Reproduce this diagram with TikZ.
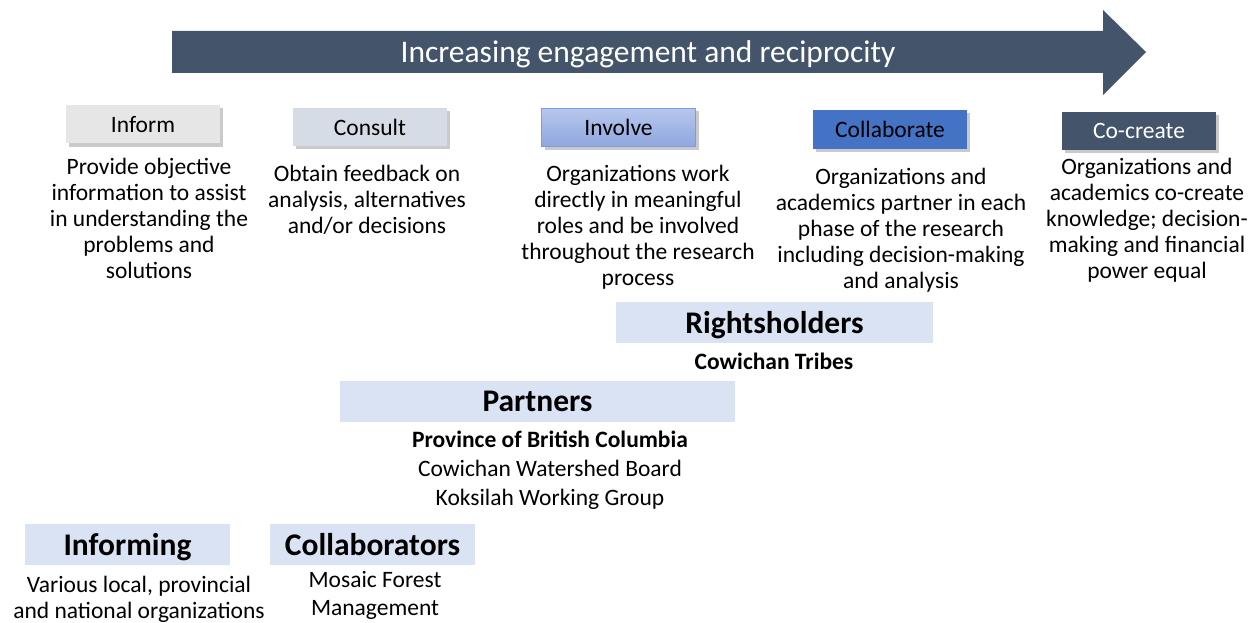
\documentclass[tikz,border=0pt]{standalone}
\usepackage{fontspec}
\setmainfont{Carlito}
\usetikzlibrary{shadows,calc}
\definecolor{slate}{HTML}{44546A}
\definecolor{informgray}{HTML}{E7E6E6}
\definecolor{consultblue}{HTML}{D6DCE5}
\definecolor{involvetop}{HTML}{B7C6EC}
\definecolor{involvebot}{HTML}{8FA7DF}
\definecolor{involveline}{HTML}{7E9BDD}
\definecolor{collabblue}{HTML}{4472C4}
\definecolor{grouppale}{HTML}{DAE3F3}
\tikzset{
  x=1pt, y=-1pt,
  levelbox/.style={minimum width=154pt, minimum height=38pt, inner sep=0pt,
    font=\fontsize{23.5}{26}\selectfont,
    drop shadow={shadow xshift=3pt, shadow yshift=-3pt, opacity=0.35, fill=black!60}},
  desc/.style={align=center, inner sep=0pt, font=\fontsize{23.5}{26}\selectfont},
  grouphead/.style={fill=grouppale, inner sep=0pt, minimum height=41pt,
    text depth=0pt, font=\fontsize{31.5}{34}\selectfont\bfseries},
  members/.style={align=center, inner sep=0pt, font=\fontsize{23.5}{29}\selectfont}
}
\begin{document}
\begin{tikzpicture}
\useasboundingbox (0,0) rectangle (1255,623);

% progression arrow
\fill[slate] (172,31) -- (1103,31) -- (1103,10) -- (1146,52) -- (1103,95)
  -- (1103,73) -- (172,73) -- cycle;
\node[text=white, text depth=0pt, font=\fontsize{31.5}{34}\selectfont] (arrowlabel) at (648,52)
  {Increasing engagement and reciprocity};

% engagement levels
\node[levelbox, fill=informgray] (inform) at (143,124.5) {Inform};
\node[levelbox, fill=consultblue] (consult) at (370,127) {Consult};
\node[levelbox, top color=involvetop, bottom color=involvebot, draw=involveline]
  (involve) at (618.5,127.5) {Involve};
\node[levelbox, fill=collabblue] (collaborate) at (890,129.5) {Collaborate};
\node[levelbox, fill=slate, text=white] (cocreate) at (1139,131) {Co-create};

\node[desc] (informdesc) at (149,218)
  {Provide objective\\information to assist\\in understanding the\\problems and\\solutions};
\node[desc] (consultdesc) at (367,200)
  {Obtain feedback on\\analysis, alternatives\\and/or decisions};
\node[desc] (involvedesc) at (638,227)
  {Organizations work\\directly in meaningful\\roles and be involved\\throughout the research\\process};
\node[desc] (collabdesc) at (901,230)
  {Organizations and\\academics partner in each\\phase of the research\\including decision-making\\and analysis};
\node[desc] (cocreatedesc) at (1147,220)
  {Organizations and\\academics co-create\\knowledge; decision-\\making and financial\\power equal};

% groups
\node[grouphead, minimum width=317pt] (rights) at (774.5,322.5) {Rightsholders};
\node[members, font=\fontsize{23.5}{29}\selectfont\bfseries] (rightsmem) at (774,361) {Cowichan Tribes};

\node[grouphead, minimum width=395pt] (partners) at (537.5,401.5) {Partners};
\node[members] (partnersmem) at (550,470)
  {\textbf{Province of British Columbia}\\Cowichan Watershed Board\\Koksilah Working Group};

\node[grouphead, minimum width=205pt] (informing) at (127.5,544.5) {Informing};
\node[members, font=\fontsize{23.5}{26}\selectfont] (informingmem) at (139,599)
  {Various local, provincial\\and national organizations};

\node[grouphead, minimum width=205pt] (collaborators) at (372.5,544.5) {Collaborators};
\node[members, font=\fontsize{23.5}{28}\selectfont] (collabmem) at (375,595)
  {Mosaic Forest\\Management};
\end{tikzpicture}
\end{document}
